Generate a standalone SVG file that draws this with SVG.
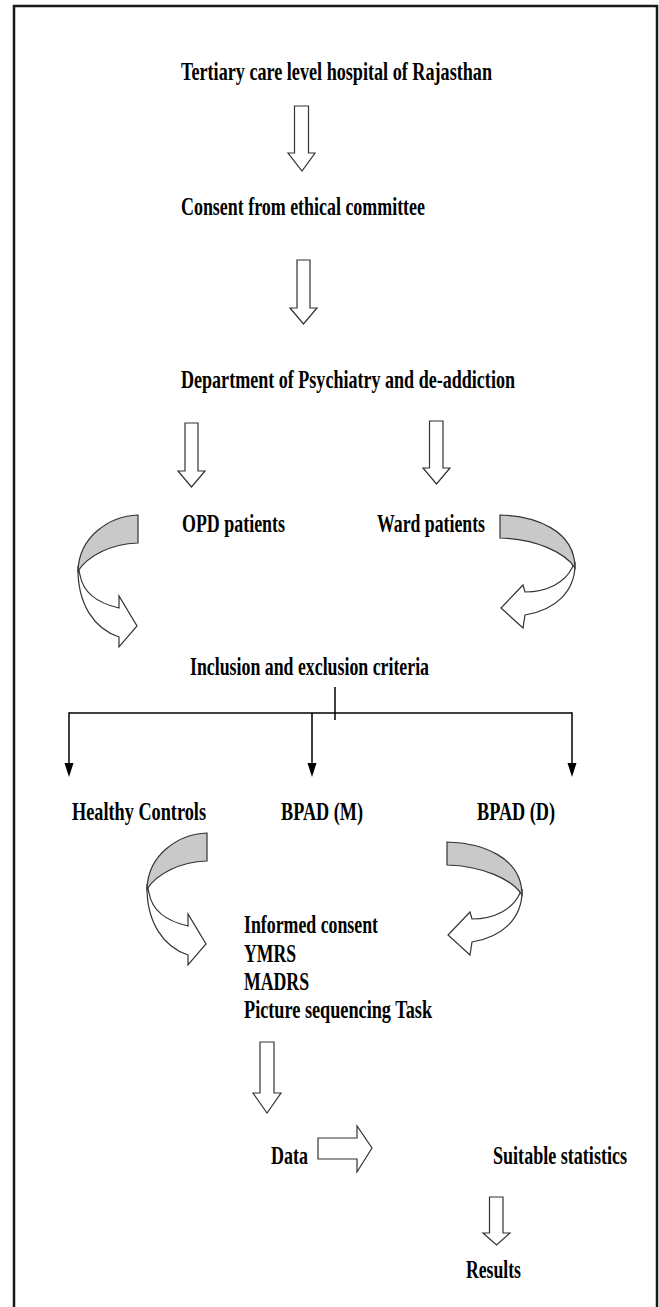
<svg xmlns="http://www.w3.org/2000/svg" width="659" height="1307" viewBox="0 0 659 1307">
<style>
.t{font-family:"Liberation Serif","Times New Roman",serif;font-weight:bold;font-size:25px;fill:#000;}
.blk{fill:#fff;stroke:#333;stroke-width:1.2;stroke-linejoin:miter;}
.band{fill:#c9c9c9;stroke:#333;stroke-width:1.2;}
.ln{stroke:#000;stroke-width:1.5;fill:none;}
.hd{fill:#000;stroke:none;}
</style>
<defs>
<g id="curveL">
<path class="blk" d="M78,566 C77,605 95,629 119,637 L119,647 L137,626 L119,596 L119,608 C97,603 83,592 80,575 Z"/>
<path class="band" d="M138,515 C110,516 79,536 78,571 C88,556 110,544 138,543 Z"/>
</g>
<g id="curveR">
<path class="blk" d="M575,562 C576,592 555,610 525,615 L523,628 L501,608 L523,585 L525,592 C548,592 565,582 572,568 Z"/>
<path class="band" d="M500,515 C535,516 575,530 575,568 C565,552 535,539 500,538 Z"/>
</g>
</defs>
<rect x="14" y="6" width="643" height="1320" fill="none" stroke="#1a1a1a" stroke-width="2.5"/>

<g id="connectors">
<path class="blk" d="M294.5,106 L308.5,106 L308.5,153 L315,153 L302,171 L288,153 L294.5,153 Z"/>
<path class="blk" d="M297,260 L310,260 L310,308 L317,308 L303.5,324 L290,308 L297,308 Z"/>
<path class="blk" d="M185,423 L198,423 L198,471 L205,471 L191.5,487 L178,471 L185,471 Z"/>
<path class="blk" d="M429.5,421 L443,421 L443,468 L450,468 L436.5,484 L423,468 L429.5,468 Z"/>
<use href="#curveL"/>
<use href="#curveR"/>
<line class="ln" x1="335" y1="687" x2="335" y2="720"/>
<line class="ln" x1="69" y1="713" x2="572" y2="713"/>
<line class="ln" x1="69" y1="712.3" x2="69" y2="765"/>
<line class="ln" x1="312" y1="713" x2="312" y2="765"/>
<line class="ln" x1="572" y1="712.3" x2="572" y2="765"/>
<polygon class="hd" points="64.5,763 73.5,763 69,777"/>
<polygon class="hd" points="307.5,763 316.5,763 312,777"/>
<polygon class="hd" points="567.5,763 576.5,763 572,777"/>
<use href="#curveL" transform="translate(69,318)"/>
<use href="#curveR" transform="translate(-53,327)"/>
<path class="blk" d="M260,1042 L274,1042 L274,1093 L281,1093 L267,1113 L253,1093 L260,1093 Z"/>
<path class="blk" d="M318,1138 L357,1138 L357,1126 L372,1148 L357,1172 L357,1159 L318,1159 Z"/>
<path class="blk" d="M489.5,1197 L503,1197 L503,1233 L510,1233 L496.5,1245 L483,1233 L489.5,1233 Z"/>
</g>

<g id="n-hospital"><text class="t" transform="translate(181,80) scale(0.75,1)" textLength="414.7" lengthAdjust="spacingAndGlyphs">Tertiary care level hospital of Rajasthan</text></g>
<g id="n-consent"><text class="t" transform="translate(181,215) scale(0.75,1)" textLength="325.3" lengthAdjust="spacingAndGlyphs">Consent from ethical committee</text></g>
<g id="n-dept"><text class="t" transform="translate(181,388) scale(0.75,1)" textLength="445.3" lengthAdjust="spacingAndGlyphs">Department of Psychiatry and de-addiction</text></g>
<g id="n-opd"><text class="t" transform="translate(182,532) scale(0.75,1)" textLength="137.3" lengthAdjust="spacingAndGlyphs">OPD patients</text></g>
<g id="n-ward"><text class="t" transform="translate(377,532) scale(0.75,1)" textLength="144" lengthAdjust="spacingAndGlyphs">Ward patients</text></g>
<g id="n-criteria"><text class="t" transform="translate(190,675) scale(0.75,1)" textLength="318.7" lengthAdjust="spacingAndGlyphs">Inclusion and exclusion criteria</text></g>
<g id="n-healthy"><text class="t" transform="translate(72,820) scale(0.75,1)" textLength="178.7" lengthAdjust="spacingAndGlyphs">Healthy Controls</text></g>
<g id="n-bpadm"><text class="t" transform="translate(281,820) scale(0.75,1)" textLength="109.3" lengthAdjust="spacingAndGlyphs">BPAD (M)</text></g>
<g id="n-bpadd"><text class="t" transform="translate(477,820) scale(0.75,1)" textLength="104" lengthAdjust="spacingAndGlyphs">BPAD (D)</text></g>
<g id="n-assess">
<text class="t" transform="translate(244,933) scale(0.75,1)" textLength="178.7" lengthAdjust="spacingAndGlyphs">Informed consent</text>
<text class="t" transform="translate(244,962) scale(0.75,1)" textLength="69.3" lengthAdjust="spacingAndGlyphs">YMRS</text>
<text class="t" transform="translate(244,990) scale(0.75,1)" textLength="86.7" lengthAdjust="spacingAndGlyphs">MADRS</text>
<text class="t" transform="translate(244,1018) scale(0.75,1)" textLength="250.7" lengthAdjust="spacingAndGlyphs">Picture sequencing Task</text>
</g>
<g id="n-data"><text class="t" transform="translate(271,1164) scale(0.75,1)" textLength="49.3" lengthAdjust="spacingAndGlyphs">Data</text></g>
<g id="n-stats"><text class="t" transform="translate(493,1164) scale(0.75,1)" textLength="178.7" lengthAdjust="spacingAndGlyphs">Suitable statistics</text></g>
<g id="n-results"><text class="t" transform="translate(466,1278) scale(0.75,1)" textLength="73.3" lengthAdjust="spacingAndGlyphs">Results</text></g>
</svg>
